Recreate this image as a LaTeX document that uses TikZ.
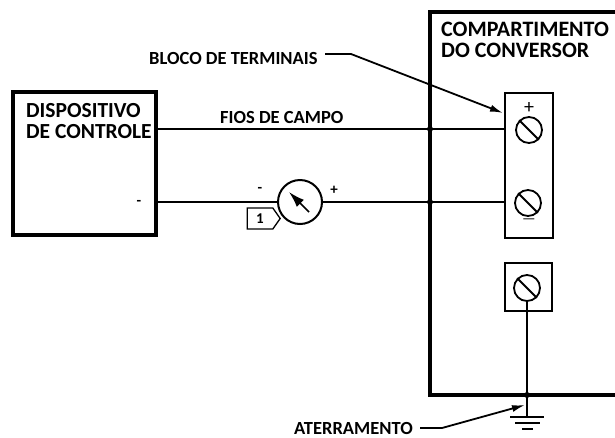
\documentclass[tikz,border=0pt]{standalone}
\usepackage{fontspec}
\setmainfont{Carlito}
\usetikzlibrary{arrows.meta,shapes.symbols}
\tikzstyle{caixa}=[draw,line width=3.5pt,inner sep=0pt]
\tikzstyle{bloco}=[draw,line width=2.2pt,rectangle,inner sep=0pt]
\tikzstyle{parafuso}=[draw,circle,line width=1.8pt,minimum width=26pt,inner sep=0pt]
\tikzstyle{rotulo}=[font=\bfseries\fontsize{#1}{21}\selectfont,align=left,inner sep=0pt,anchor=west]
\tikzstyle{sinal}=[font=\bfseries\fontsize{15}{15}\selectfont,inner sep=0pt]
\tikzstyle{fio}=[line width=1.8pt]
\tikzstyle{seta}=[line width=1.8pt,-{Latex[length=13pt,width=7pt]}]
\tikzstyle{ponto}=[fill,circle,inner sep=0pt,minimum width=6pt]
\begin{document}
\begin{tikzpicture}[x=1pt,y=-1pt]
  \useasboundingbox (0,0) rectangle (615,437);
  % Place boxes
  \node[caixa,minimum width=143pt,minimum height=143pt] (disp) at (84.5,163.5) {};
  \coordinate (ct1) at (430,12);
  \coordinate (ct2) at (615,12);
  \coordinate (cb1) at (430,395);
  \coordinate (cb2) at (615,395);
  \draw[line width=4pt] (ct2) -- (ct1) -- (cb1) -- (cb2);

  \node[rotulo=21.5] (ldisp) at (26,121) {DISPOSITIVO\\DE CONTROLE};
  \node[rotulo=22] (lcomp) at (441,40) {COMPARTIMENTO\\DO CONVERSOR};
  \node[rotulo=18.5] (lbloco) at (149,58) {BLOCO DE TERMINAIS};
  \node[rotulo=18.5] (lfios) at (220,117) {FIOS DE CAMPO};
  \node[rotulo=18.5] (later) at (294,428) {ATERRAMENTO};

  % Place terminals
  \node[bloco,minimum width=48pt,minimum height=145pt] (term) at (529,165.5) {};
  \node[parafuso] (s1) at (529,130) {};
  \node[parafuso] (s2) at (528,203) {};
  \node[bloco,minimum width=47pt,minimum height=48pt] (gbox) at (528.5,287) {};
  \node[parafuso] (s3) at (527,288) {};
  \draw[line width=1.8pt] (s1.north west) -- (s1.south east);
  \draw[line width=1.8pt] (s2.north west) -- (s2.south east);
  \draw[line width=1.8pt] (s3.north west) -- (s3.south east);
  \node[sinal,font=\fontsize{20}{20}\selectfont] (mais) at (529,108) {+};
  \node[sinal,font=\fontsize{15}{15}\selectfont] (menos) at (529,221) {—};

  % Place meter
  \node[draw,circle,line width=2pt,minimum width=44pt,inner sep=0pt] (med) at (300,202) {};
  \coordinate (na) at (309,212);
  \coordinate (nb) at (289,192);
  \draw[line width=1.6pt,-{Latex[length=16pt,width=10pt]}] (na) -- (nb);
  \node[sinal] (mneg) at (260,190) {-};
  \node[sinal] (mpos) at (334,190) {+};
  \node[sinal] (dneg) at (139,203) {-};
  \node[draw,line width=1.3pt,shape=signal,signal to=east,signal pointer angle=110,
    minimum width=33pt,minimum height=21pt,inner sep=0pt,
    font=\bfseries\fontsize{15}{15}\selectfont] (tag) at (260,218.5) {1};

  % Wires
  \coordinate (j1) at (430,129);
  \coordinate (j2) at (430,202);
  \coordinate (tw1) at (505,129);
  \coordinate (tw2) at (505,202);
  \coordinate (dw1) at (156,129);
  \coordinate (dw2) at (156,202);
  \path[fio] (dw1) edge (tw1);
  \path[fio] (dw2) edge (med);
  \path[fio] (med) edge (tw2);
  \node[ponto] (p1) at (j1) {};
  \node[ponto] (p2) at (j2) {};

  % Ground
  \coordinate (gnd) at (527,417);
  \coordinate (g1a) at (510,417);
  \coordinate (g1b) at (544,417);
  \coordinate (g2a) at (515,423);
  \coordinate (g2b) at (540,423);
  \coordinate (g3a) at (522,429);
  \coordinate (g3b) at (533,429);
  \draw[line width=1.4pt] (s3) -- (gnd);
  \draw[line width=1.6pt] (g1a) -- (g1b);
  \draw[line width=1.6pt] (g2a) -- (g2b);
  \draw[line width=1.6pt] (g3a) -- (g3b);
  \node[ponto] (p3) at (527,395) {};

  % Arrows
  \coordinate (a1) at (325,54);
  \coordinate (a2) at (351,54);
  \coordinate (a3) at (503,113);
  \draw[seta] (a1) -- (a2) -- (a3);
  \coordinate (b1) at (420,428);
  \coordinate (b2) at (442,428);
  \coordinate (b3) at (525,405);
  \draw[seta] (b1) -- (b2) -- (b3);
\end{tikzpicture}
\end{document}
